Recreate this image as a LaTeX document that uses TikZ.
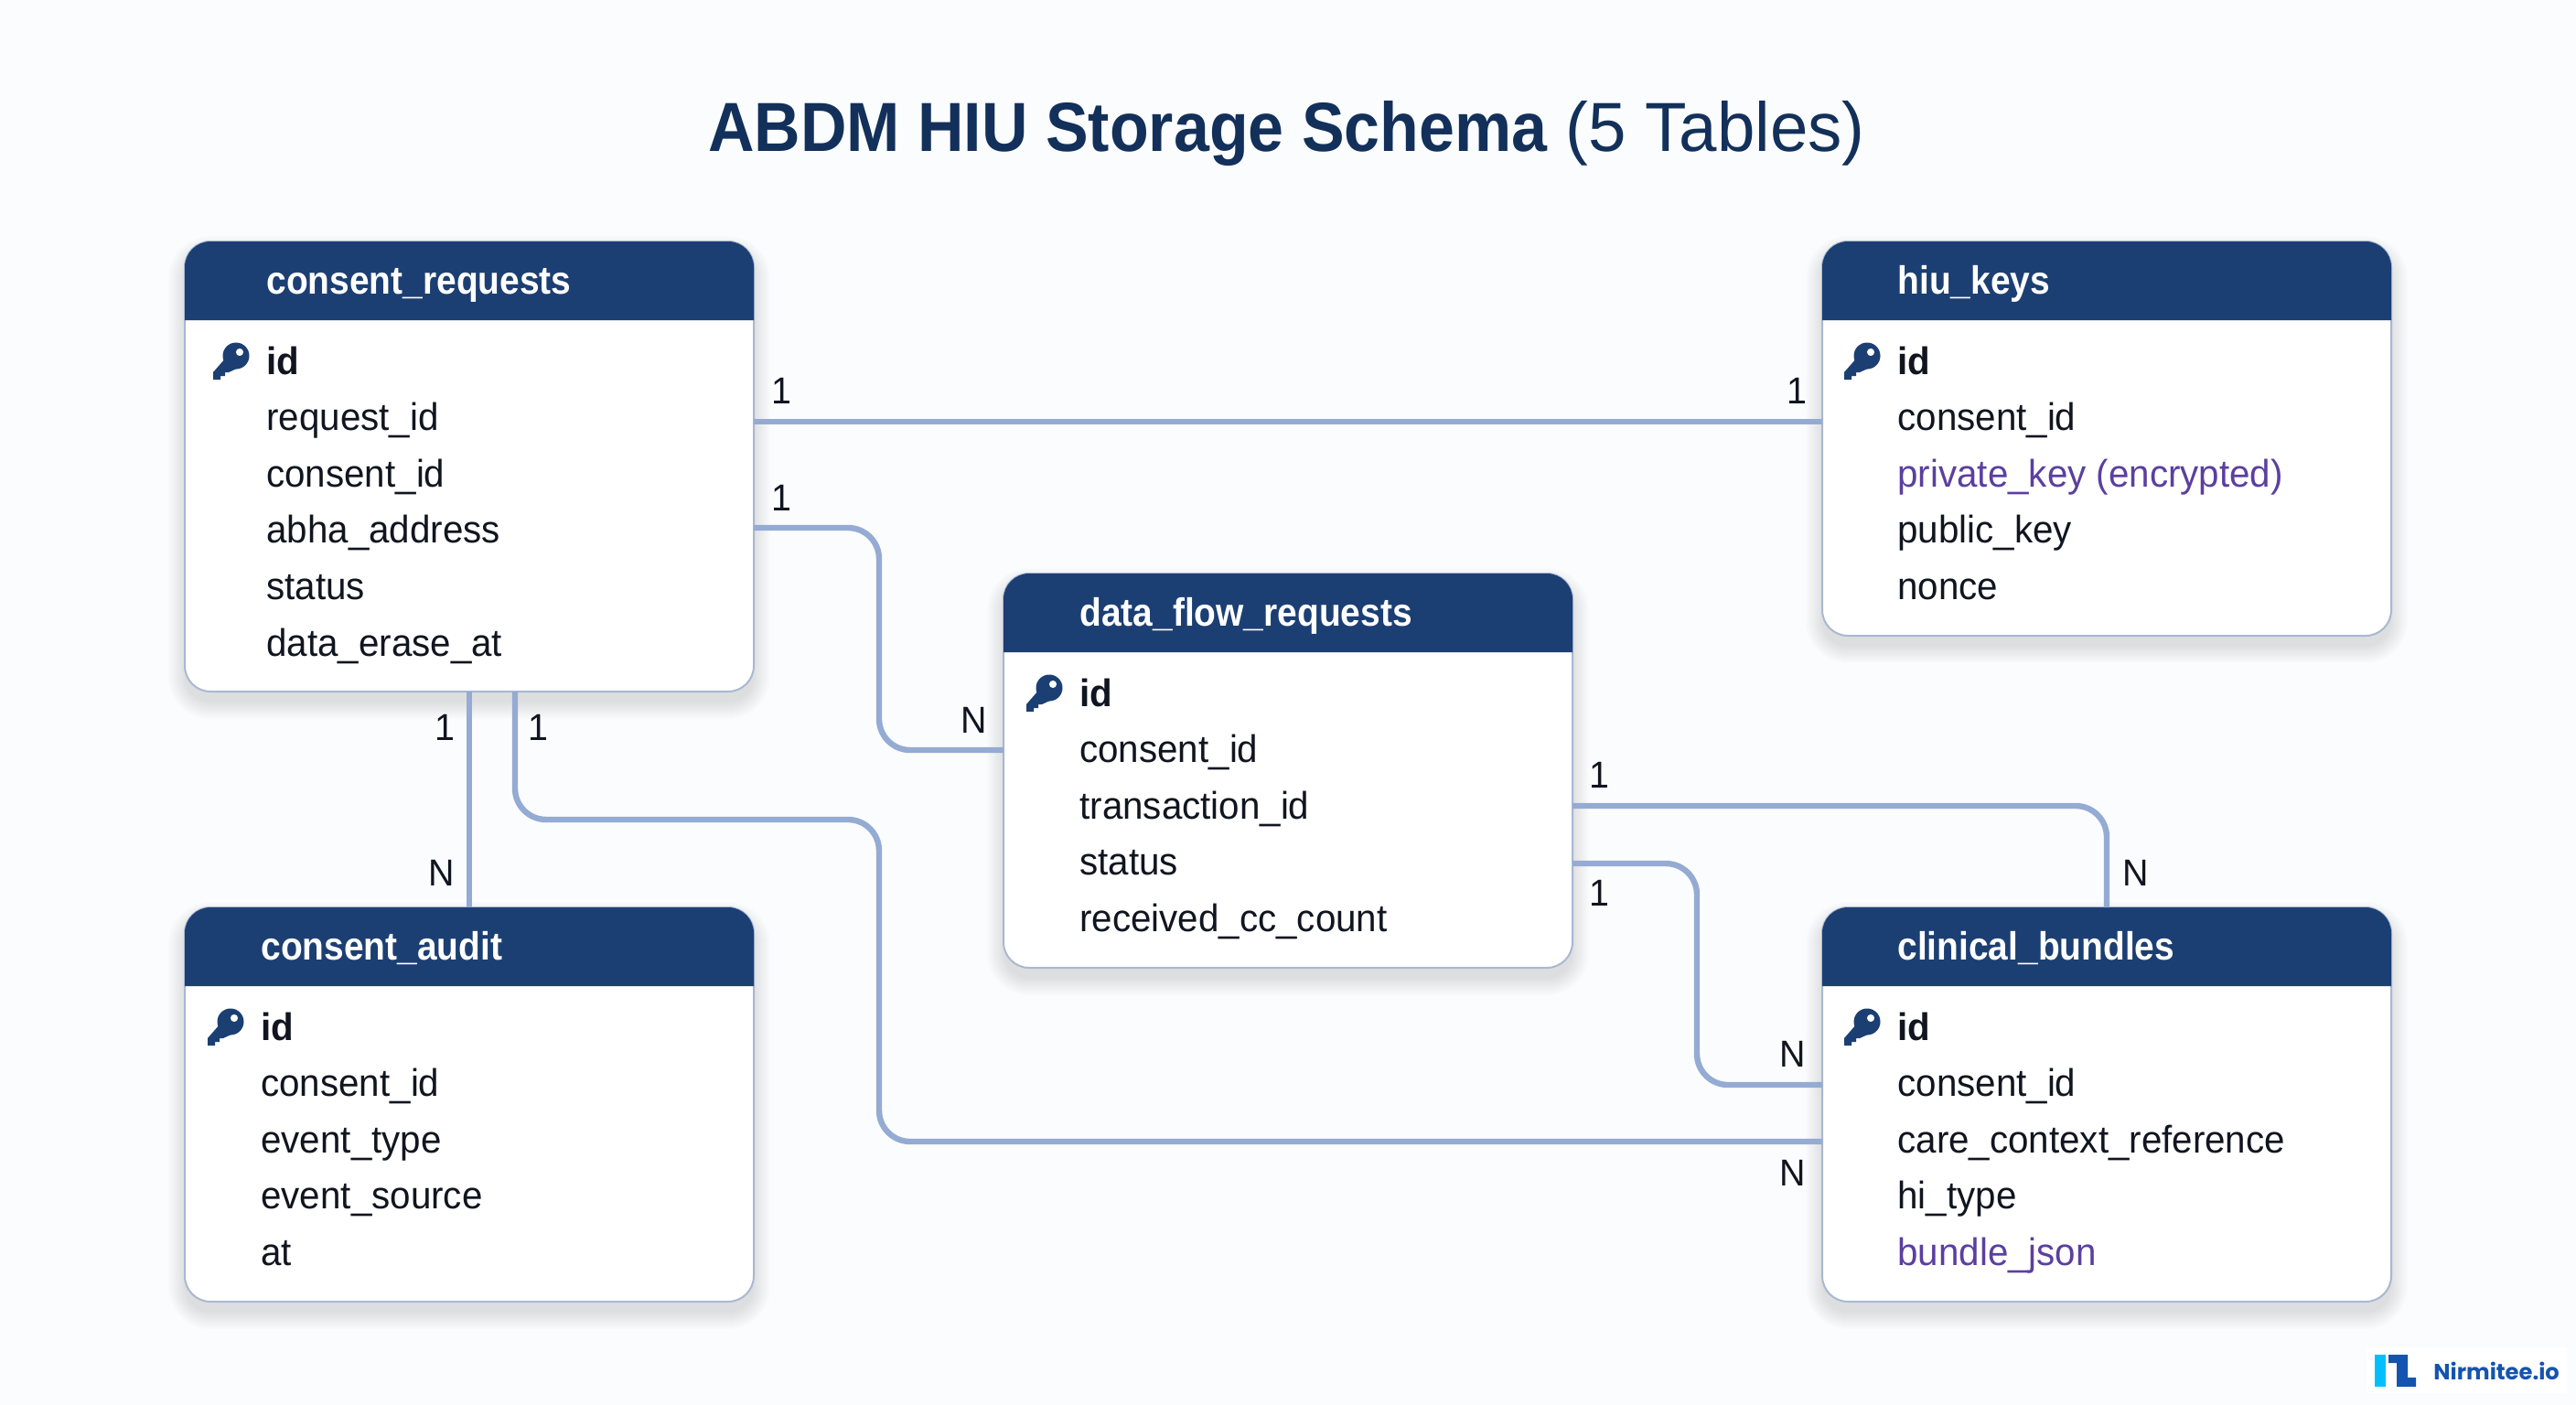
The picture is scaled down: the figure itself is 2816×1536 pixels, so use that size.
\documentclass[tikz,border=0pt]{standalone}
\usepackage{fontspec}
\setmainfont{Liberation Sans}[FakeStretch=0.96]
\newfontfamily\logofont{Poppins}
\newfontfamily\hdrfont{Liberation Sans}[FakeStretch=0.905]
\newfontfamily\titlefont{Liberation Sans}[FakeStretch=0.92]
\newfontfamily\titlereg{Liberation Sans}[FakeStretch=0.98]
\definecolor{bgc}{HTML}{FBFCFD}
\definecolor{hdrc}{HTML}{1C3F73}
\definecolor{bordc}{HTML}{A9B8D3}
\definecolor{linkc}{HTML}{94ABD3}
\definecolor{pur}{HTML}{5B3FA0}
\definecolor{titlec}{HTML}{12305A}
\definecolor{rowc}{HTML}{10151F}
\definecolor{logob}{HTML}{1553B0}
\definecolor{logoc}{HTML}{00BFFF}
\tikzset{
  tablebody/.style={draw=bordc,line width=1pt,fill=white,rounded corners=14pt,inner sep=0pt,outer sep=0pt},
  hdrtext/.style={anchor=base west,inner sep=0pt,text=white,font=\hdrfont\fontsize{21.5}{24}\selectfont\bfseries},
  rowtext/.style={anchor=base west,inner sep=0pt,text=rowc,font=\fontsize{21}{24}\selectfont},
  card/.style={anchor=base,inner sep=0pt,text=rowc,font=\fontsize{20.5}{24}\selectfont},
  link/.style={draw=linkc,line width=3.2pt,rounded corners=17pt},
}
% name, x1, y1, x2, y2, header bottom, text x, title, rows
\newcommand{\dbtable}[9]{%
  \foreach \s in {18,16,...,0}{
    \fill[black,opacity=.01,rounded corners={14+\s/2}] (#2-\s,#3-\s+12) rectangle (#4+\s,#5+\s+12);
  }
  \pgfmathsetmacro{\tblw}{(#4-#2)*0.5}
  \pgfmathsetmacro{\tblh}{(#5-#3)*0.5}
  \node[tablebody,minimum width=\tblw pt,minimum height=\tblh pt,anchor=north west] (#1) at (#2,#3) {};
  \fill[hdrc] [sharp corners] (#2,#6) [rounded corners=14pt] -- (#2,#3) -- (#4,#3) [sharp corners] -- (#4,#6) -- cycle;
  \pgfmathsetmacro{\hb}{#3+57}
  \node[hdrtext] (#1-h) at (#7,\hb) {#8};
  \pgfmathsetmacro{\ib}{#3+145}
  \pgfmathsetmacro{\ky}{#3+111}
  \begin{scope}[shift={(#7-58,\ky)}]
    \fill[hdrc] (14,16) -- (0,32) -- (0,40) -- (8,40) -- (8,36) -- (13,36) -- (13,32) -- (17,32) -- (28,27) -- cycle;
    \fill[hdrc,even odd rule] (25,14) circle[radius=14.5] (29,10) circle[radius=4.2];
  \end{scope}
  \node[rowtext,font=\fontsize{21}{24}\selectfont\bfseries] (#1-r0) at (#7,\ib) {id};
  \foreach \t [count=\i] in {#9}{
    \pgfmathsetmacro{\rb}{#3+145+61.6*\i}
    \node[rowtext] (#1-r\i) at (#7,\rb) {\t};
  }
}
\begin{document}
\begin{tikzpicture}[x=0.5pt,y=-0.5pt]
\fill[bgc] (0,0) rectangle (2816,1536);
\useasboundingbox (0,0) rectangle (2816,1536);
\node[anchor=base west,inner sep=0pt,text=titlec,font=\fontsize{38}{44}\selectfont] (title) at (774,165) {{\titlefont\bfseries ABDM HIU Storage Schema} {\titlereg (5 Tables)}};

\dbtable{cr}{202}{264}{824}{756}{350}{291}{consent\_requests}{request\_id,consent\_id,abha\_address,status,data\_erase\_at}
\dbtable{hk}{1992}{264}{2614}{695}{350}{2074}{hiu\_keys}{consent\_id,\textcolor{pur}{private\_key (encrypted)},public\_key,nonce}
\dbtable{df}{1097}{627}{1719}{1058}{713}{1180}{data\_flow\_requests}{consent\_id,transaction\_id,status,received\_cc\_count}
\dbtable{ca}{202}{992}{824}{1423}{1078}{285}{consent\_audit}{consent\_id,event\_type,event\_source,at}
\dbtable{cb}{1992}{992}{2614}{1423}{1078}{2074}{clinical\_bundles}{consent\_id,care\_context\_reference,hi\_type,\textcolor{pur}{bundle\_json}}

\draw[link] (cr.east |- 0,461) -- (hk.west |- 0,461);
\draw[link] (cr.east |- 0,577) -- (961,577) -- (961,820) -- (df.west |- 0,820);
\draw[link] (cr.south -| 513,0) -- (ca.north -| 513,0);
\draw[link] (cr.south -| 563,0) -- (563,896) -- (961,896) -- (961,1248) -- (cb.west |- 0,1248);
\draw[link] (df.east |- 0,881) -- (2303,881) -- (cb.north -| 2303,0);
\draw[link] (df.east |- 0,944) -- (1855,944) -- (1855,1186) -- (cb.west |- 0,1186);

\node[card] (c1) at (854.5,441) {1};
\node[card] (c2) at (1964.5,441) {1};
\node[card] (c3) at (854.5,558) {1};
\node[card] (c4) at (1064.5,801) {N};
\node[card] (c5) at (486.5,809) {1};
\node[card] (c6) at (588.5,809) {1};
\node[card] (c7) at (482.5,968) {N};
\node[card] (c8) at (1748.5,861) {1};
\node[card] (c9) at (1748.5,990) {1};
\node[card] (c10) at (2334.5,968) {N};
\node[card] (c11) at (1959.5,1166) {N};
\node[card] (c12) at (1959.5,1296) {N};

\fill[white] (2587,1473) rectangle (2806,1523);
\fill[logoc] (2596,1481) rectangle (2608,1516);
\fill[logob] (2611,1481) -- (2632,1481) -- (2632,1506) -- (2641,1506) -- (2641,1516) -- (2620,1516) -- (2620,1490) -- (2611,1490) -- cycle;
\node[anchor=base west,inner sep=0pt,text=logob,font=\logofont\fontsize{12.1}{16}\selectfont\bfseries] (logo) at (2660,1508) {Nirmitee.io};
\end{tikzpicture}
\end{document}
